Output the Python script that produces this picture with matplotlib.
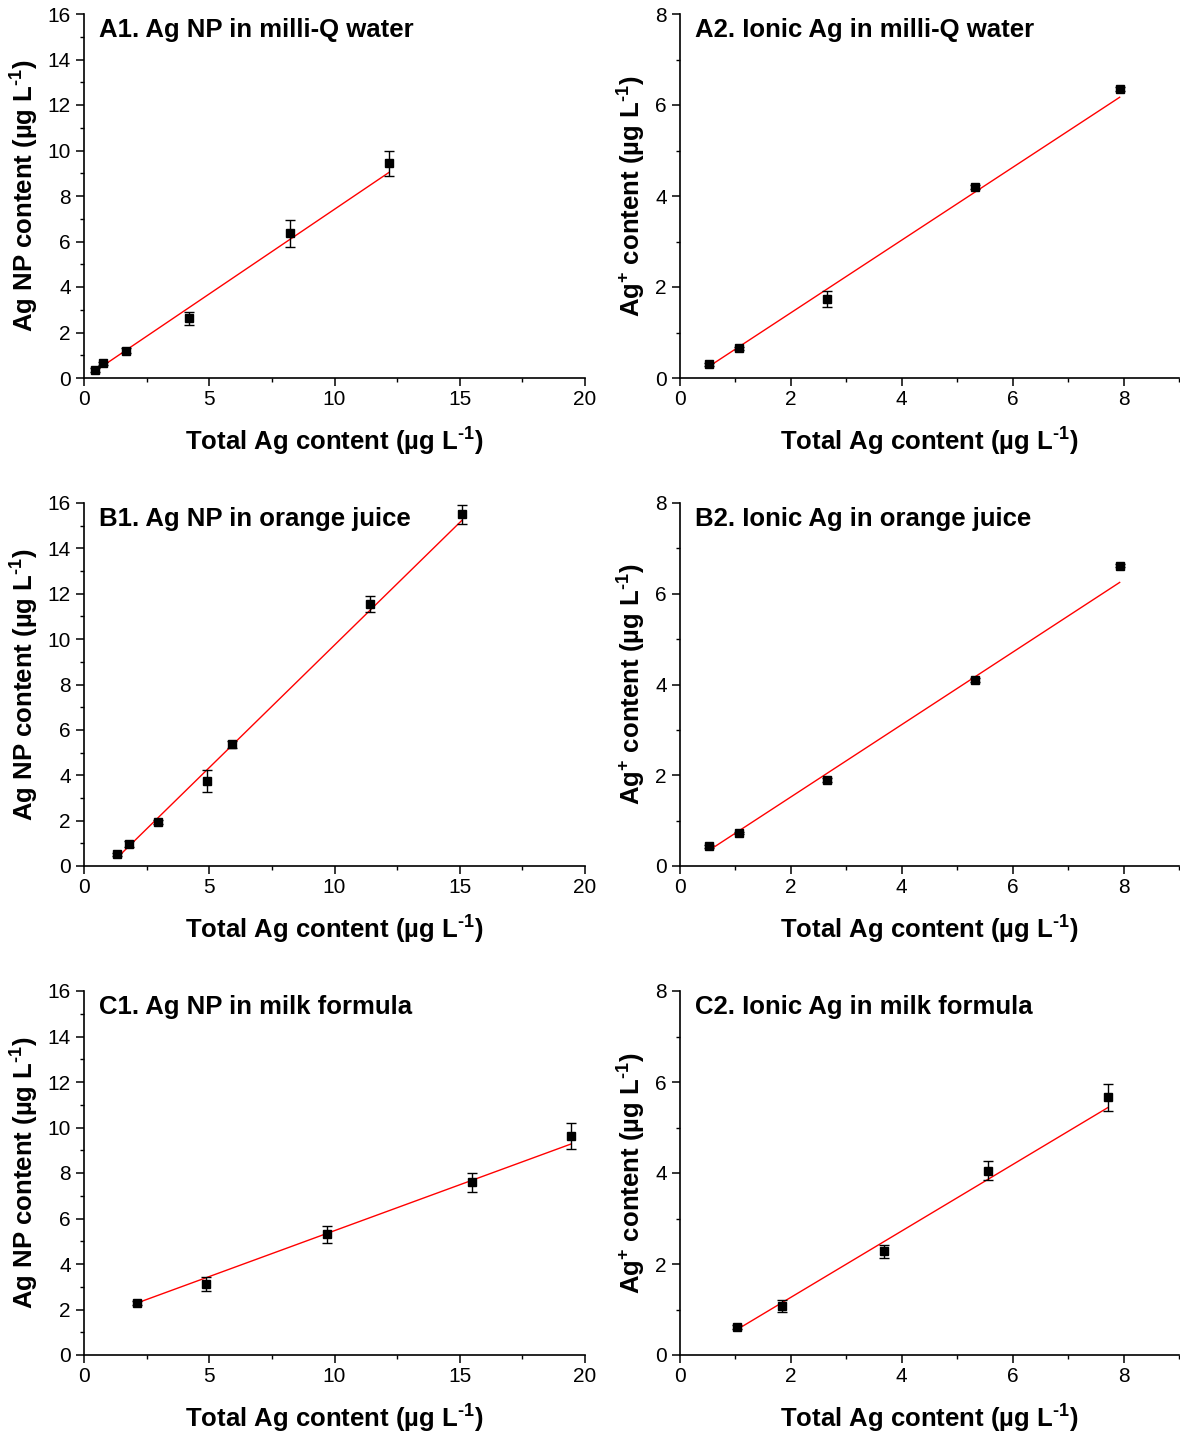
import matplotlib
matplotlib.use("Agg")
import matplotlib.pyplot as plt
from matplotlib.ticker import MultipleLocator

plt.rcParams['font.family'] = ['Liberation Sans', 'DejaVu Sans']
plt.rcParams['mathtext.fontset'] = 'custom'
plt.rcParams['mathtext.rm'] = 'Liberation Sans:bold'
plt.rcParams['mathtext.it'] = 'Liberation Sans:bold'
plt.rcParams['mathtext.bf'] = 'Liberation Sans:bold'
plt.rcParams['mathtext.default'] = 'rm'

# ---------------- data ----------------
titles = ["A1. Ag NP in milli-Q water", "A2. Ionic Ag in milli-Q water",
          "B1. Ag NP in orange juice", "B2. Ionic Ag in orange juice",
          "C1. Ag NP in milk formula", "C2. Ionic Ag in milk formula"]

a1_x = [0.44, 0.77, 1.68, 4.20, 8.22, 12.18]
a1_y = [0.35, 0.64, 1.20, 2.62, 6.36, 9.44]
a1_e = [0.08, 0.08, 0.12, 0.29, 0.59, 0.56]
a1_fit_x = [0.44, 12.18]
a1_fit_y = [0.30, 9.04]

a2_x = [0.53, 1.07, 2.65, 5.32, 7.93]
a2_y = [0.30, 0.65, 1.73, 4.20, 6.35]
a2_e = [0.04, 0.04, 0.18, 0.04, 0.05]
a2_fit_x = [0.53, 7.93]
a2_fit_y = [0.26, 6.17]

b1_x = [1.33, 1.78, 2.94, 4.91, 5.90, 11.43, 15.10]
b1_y = [0.51, 0.96, 1.94, 3.75, 5.36, 11.56, 15.50]
b1_e = [0.08, 0.12, 0.08, 0.49, 0.15, 0.36, 0.43]
b1_fit_x = [1.33, 15.10]
b1_fit_y = [0.37, 15.25]

b2_x = [0.53, 1.07, 2.65, 5.32, 7.93]
b2_y = [0.43, 0.73, 1.90, 4.10, 6.62]
b2_e = [0.03, 0.03, 0.04, 0.04, 0.04]
b2_fit_x = [0.53, 7.93]
b2_fit_y = [0.35, 6.25]

c1_x = [2.13, 4.87, 9.69, 15.50, 19.43]
c1_y = [2.29, 3.12, 5.30, 7.59, 9.63]
c1_e = [0.08, 0.32, 0.36, 0.41, 0.58]
c1_fit_x = [2.13, 19.43]
c1_fit_y = [2.29, 9.27]

c2_x = [1.03, 1.84, 3.68, 5.56, 7.72]
c2_y = [0.61, 1.07, 2.28, 4.05, 5.66]
c2_e = [0.04, 0.13, 0.14, 0.21, 0.29]
c2_fit_x = [1.03, 7.72]
c2_fit_y = [0.56, 5.44]

left_xticks = [0, 5, 10, 15, 20]
left_yticks = [0, 2, 4, 6, 8, 10, 12, 14, 16]
right_xticks = [0, 2, 4, 6, 8]
right_yticks = [0, 2, 4, 6, 8]

xlabel = r"Total Ag content (µg L$^{\text{-1}}$)"
ylabel_left = r"Ag NP content (µg L$^{\text{-1}}$)"
ylabel_right = r"Ag$^{+}$ content (µg L$^{\text{-1}}$)"

panels = [
    (a1_x, a1_y, a1_e, a1_fit_x, a1_fit_y),
    (a2_x, a2_y, a2_e, a2_fit_x, a2_fit_y),
    (b1_x, b1_y, b1_e, b1_fit_x, b1_fit_y),
    (b2_x, b2_y, b2_e, b2_fit_x, b2_fit_y),
    (c1_x, c1_y, c1_e, c1_fit_x, c1_fit_y),
    (c2_x, c2_y, c2_e, c2_fit_x, c2_fit_y),
]

# ---------------- layout ----------------
W, H = 1180, 1435
fig = plt.figure(figsize=(W / 100, H / 100), dpi=100)

col_px = [(84, 585), (680, 1179)]
row_px = [(14, 378), (503, 866), (991, 1355)]
ylabel_cx = [25, 632]
xlabel_cy_off = 64

for i, (x, y, e, fx, fy) in enumerate(panels):
    r, c = divmod(i, 2)
    l, rr = col_px[c]
    t, b = row_px[r]
    ax = fig.add_axes([l / W, 1 - b / H, (rr - l) / W, (b - t) / H])
    ax.spines['top'].set_visible(False)
    ax.spines['right'].set_visible(False)
    for s in ('left', 'bottom'):
        ax.spines[s].set_linewidth(1.2)
    ax.plot(fx, fy, color='#ff0000', lw=1.0, zorder=2)
    ax.errorbar(x, y, yerr=e, fmt='s', color='black', ms=6.3,
                ecolor='black', elinewidth=1.0, capsize=3.5, capthick=1.0,
                zorder=3)
    if c == 0:
        ax.set_xlim(0, 20)
        ax.set_ylim(0, 16)
        ax.set_xticks(left_xticks)
        ax.set_yticks(left_yticks)
        ax.xaxis.set_minor_locator(MultipleLocator(2.5))
        ax.yaxis.set_minor_locator(MultipleLocator(1))
        ax.set_ylabel(ylabel_left, fontsize=18.5, fontweight='bold', va='center')
    else:
        ax.set_xlim(0, 9)
        ax.set_ylim(0, 8)
        ax.set_xticks(right_xticks)
        ax.set_yticks(right_yticks)
        ax.xaxis.set_minor_locator(MultipleLocator(1))
        ax.yaxis.set_minor_locator(MultipleLocator(1))
        ax.set_ylabel(ylabel_right, fontsize=18.5, fontweight='bold', va='center')
    ax.yaxis.set_label_coords((ylabel_cx[c] - l) / (rr - l), 0.5)
    ax.set_xlabel(xlabel, fontsize=18.5, fontweight='bold', va='center')
    ax.xaxis.set_label_coords(0.5, -xlabel_cy_off / (b - t))
    ax.tick_params(which='major', direction='out', length=5.5, width=1.1,
                   labelsize=15)
    ax.tick_params(axis='x', which='major', pad=3)
    ax.tick_params(axis='y', which='major', pad=4)
    ax.tick_params(which='minor', direction='out', length=3, width=1.0)
    ax.text(0.03, 0.957, titles[i], transform=ax.transAxes, fontsize=18.5,
            fontweight='bold', ha='left', va='center')

fig.savefig("out.png", dpi=100)
